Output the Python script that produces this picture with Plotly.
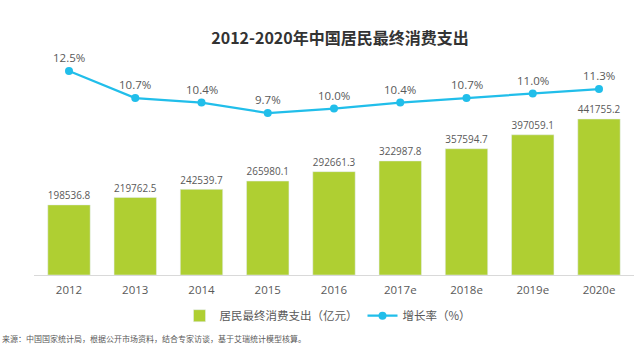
import plotly.graph_objects as go

years = ["2012", "2013", "2014", "2015", "2016", "2017e", "2018e", "2019e", "2020e"]
spending = [198536.8, 219762.5, 242539.7, 265980.1, 292661.3, 322987.8, 357594.7, 397059.1, 441755.2]
growth = [12.5, 10.7, 10.4, 9.7, 10.0, 10.4, 10.7, 11.0, 11.3]

FONT = "Open Sans, Noto Sans CJK SC, sans-serif"
GRAY = "#595959"
L, R = 34, 6
W = 640 - L - R

fig = go.Figure()
fig.add_trace(go.Bar(
    x=years, y=spending, name="居民最终消费支出（亿元）",
    marker_color="#AFCF32", width=0.64,
    text=[f"{v:.1f}" for v in spending], textposition="outside",
    textfont=dict(size=11.5, color=GRAY, family=FONT), cliponaxis=False,
))
fig.add_trace(go.Scatter(
    x=years, y=growth, name="增长率（%）", yaxis="y2",
    mode="lines+markers",
    line=dict(color="#21BEEA", width=2.2), marker=dict(size=8, color="#21BEEA"),
    cliponaxis=False,
))
for i, (yr, g) in enumerate(zip(years, growth)):
    fig.add_annotation(x=i, xref="x", y=g, yref="y2", text=f"{g:.1f}%", showarrow=False,
                       yanchor="bottom", yshift=4,
                       font=dict(size=11.5, color=GRAY, family=FONT))

fig.update_layout(
    width=640, height=349,
    margin=dict(l=L, r=R, t=55, b=74),
    paper_bgcolor="white", plot_bgcolor="white",
    font=dict(family=FONT, color=GRAY, size=11),
    title=dict(text="<b>2012-2020年中国居民最终消费支出</b>", x=(340 - L) / W, xref="paper",
               xanchor="center", y=0.89, yanchor="middle",
               font=dict(size=16, color="#333333", family="Noto Sans CJK SC")),
    xaxis=dict(type="category", showgrid=False, showline=True, linecolor="#d9d9d9", linewidth=1,
               ticks="", ticklabelstandoff=4, tickfont=dict(size=11.5, color=GRAY)),
    yaxis=dict(range=[0, 623000], visible=False, showgrid=False),
    yaxis2=dict(range=[-1.1, 13.57], overlaying="y", visible=False, showgrid=False),
    showlegend=True,
    legend=dict(orientation="h", x=0.49, xanchor="center", y=-0.185, yanchor="middle",
                font=dict(size=11.5, color=GRAY, family="Noto Sans CJK SC"),
                itemwidth=30, traceorder="normal"),
)
fig.add_annotation(text="来源：中国国家统计局，根据公开市场资料，结合专家访谈，基于艾瑞统计模型核算。",
                   xref="paper", yref="paper", x=-L / W, y=-0.29, xanchor="left", yanchor="middle",
                   showarrow=False, font=dict(size=8, color=GRAY, family="Noto Sans CJK SC"))

fig.write_html("out.html")
